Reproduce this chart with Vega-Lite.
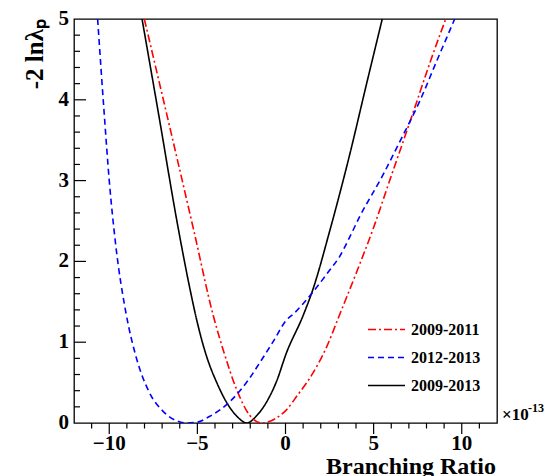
{
  "$schema": "https://vega.github.io/schema/vega-lite/v6.json",
  "width": 423,
  "height": 404,
  "autosize": "none",
  "padding": {"left": 74, "top": 19, "right": 52, "bottom": 53},
  "background": "white",
  "config": {
    "font": "Liberation Serif",
    "view": {"stroke": "black", "strokeWidth": 1.3}
  },
  "layer": [
    {
      "data": {"values": [
        {"series": "2009-2013", "x": -8.14, "y": 5},
        {"series": "2009-2013", "x": -7.19, "y": 3.81},
        {"series": "2009-2013", "x": -6.12, "y": 2.45},
        {"series": "2009-2013", "x": -5.45, "y": 1.69},
        {"series": "2009-2013", "x": -5.0, "y": 1.24},
        {"series": "2009-2013", "x": -4.5, "y": 0.84},
        {"series": "2009-2013", "x": -3.9, "y": 0.5},
        {"series": "2009-2013", "x": -3.3, "y": 0.24},
        {"series": "2009-2013", "x": -2.7, "y": 0.07},
        {"series": "2009-2013", "x": -2.2, "y": 0},
        {"series": "2009-2013", "x": -1.6, "y": 0.1},
        {"series": "2009-2013", "x": -1.1, "y": 0.25},
        {"series": "2009-2013", "x": -0.5, "y": 0.52},
        {"series": "2009-2013", "x": 0.04, "y": 0.86},
        {"series": "2009-2013", "x": 1.0, "y": 1.33},
        {"series": "2009-2013", "x": 1.55, "y": 1.65},
        {"series": "2009-2013", "x": 2.5, "y": 2.37},
        {"series": "2009-2013", "x": 3.64, "y": 3.32},
        {"series": "2009-2013", "x": 4.58, "y": 4.18},
        {"series": "2009-2013", "x": 5.49, "y": 5},
        {"series": "2009-2011", "x": -8.01, "y": 5},
        {"series": "2009-2011", "x": -6.5, "y": 3.6},
        {"series": "2009-2011", "x": -5.2, "y": 2.38},
        {"series": "2009-2011", "x": -4.1, "y": 1.33},
        {"series": "2009-2011", "x": -3.5, "y": 0.88},
        {"series": "2009-2011", "x": -2.8, "y": 0.43},
        {"series": "2009-2011", "x": -2.05, "y": 0.1},
        {"series": "2009-2011", "x": -1.35, "y": 0},
        {"series": "2009-2011", "x": -0.53, "y": 0.06},
        {"series": "2009-2011", "x": 0.04, "y": 0.16},
        {"series": "2009-2011", "x": 0.7, "y": 0.35},
        {"series": "2009-2011", "x": 1.36, "y": 0.55},
        {"series": "2009-2011", "x": 2.31, "y": 0.93},
        {"series": "2009-2011", "x": 3.07, "y": 1.34},
        {"series": "2009-2011", "x": 4.02, "y": 1.86},
        {"series": "2009-2011", "x": 5.0, "y": 2.42},
        {"series": "2009-2011", "x": 5.91, "y": 3.0},
        {"series": "2009-2011", "x": 7.33, "y": 3.9},
        {"series": "2009-2011", "x": 8.18, "y": 4.45},
        {"series": "2009-2011", "x": 9.09, "y": 5},
        {"series": "2012-2013", "x": -10.66, "y": 5},
        {"series": "2012-2013", "x": -10.28, "y": 3.81},
        {"series": "2012-2013", "x": -10.0, "y": 3.0},
        {"series": "2012-2013", "x": -9.62, "y": 2.18},
        {"series": "2012-2013", "x": -9.05, "y": 1.36},
        {"series": "2012-2013", "x": -8.48, "y": 0.82},
        {"series": "2012-2013", "x": -7.73, "y": 0.38},
        {"series": "2012-2013", "x": -6.97, "y": 0.15},
        {"series": "2012-2013", "x": -6.21, "y": 0.03},
        {"series": "2012-2013", "x": -5.6, "y": 0},
        {"series": "2012-2013", "x": -5.0, "y": 0.01},
        {"series": "2012-2013", "x": -4.32, "y": 0.08},
        {"series": "2012-2013", "x": -3.18, "y": 0.26},
        {"series": "2012-2013", "x": -2.05, "y": 0.55},
        {"series": "2012-2013", "x": -1.48, "y": 0.74},
        {"series": "2012-2013", "x": -0.72, "y": 1.0},
        {"series": "2012-2013", "x": 0.04, "y": 1.27},
        {"series": "2012-2013", "x": 0.5, "y": 1.36},
        {"series": "2012-2013", "x": 1.55, "y": 1.62},
        {"series": "2012-2013", "x": 2.5, "y": 1.89},
        {"series": "2012-2013", "x": 3.07, "y": 2.06},
        {"series": "2012-2013", "x": 3.64, "y": 2.3},
        {"series": "2012-2013", "x": 4.2, "y": 2.55},
        {"series": "2012-2013", "x": 5.53, "y": 3.07},
        {"series": "2012-2013", "x": 6.48, "y": 3.48},
        {"series": "2012-2013", "x": 7.61, "y": 3.98},
        {"series": "2012-2013", "x": 8.56, "y": 4.47},
        {"series": "2012-2013", "x": 9.6, "y": 5}
      ]},
      "mark": {"type": "line", "clip": true, "strokeWidth": 1.6, "interpolate": "monotone"},
      "encoding": {
        "x": {"field": "x", "type": "quantitative", "scale": {"domain": [-12, 12], "nice": false, "zero": false}, "axis": null},
        "y": {"field": "y", "type": "quantitative", "scale": {"domain": [0, 5], "nice": false}, "axis": null},
        "color": {
          "field": "series", "type": "nominal",
          "scale": {"domain": ["2009-2011", "2012-2013", "2009-2013"], "range": ["#ff0000", "#0000ff", "#000000"]},
          "legend": {"orient": "none", "legendX": 293, "legendY": 291, "title": null, "symbolType": "M-1,0L1,0", "symbolSize": 1369, "symbolStrokeWidth": 1.6, "labelFontSize": 16, "labelFont": "Liberation Serif", "labelFontWeight": "bold", "labelColor": "black", "labelOffset": 5, "rowPadding": -6.5, "padding": 0}
        },
        "strokeDash": {
          "field": "series", "type": "nominal",
          "scale": {"domain": ["2009-2011", "2012-2013", "2009-2013"], "range": [[8, 3, 2, 3], [6, 4], [1, 0]]},
          "legend": {"orient": "none", "legendX": 293, "legendY": 291, "title": null, "symbolType": "M-1,0L1,0", "symbolSize": 1369, "symbolStrokeWidth": 1.6, "labelFontSize": 16, "labelFont": "Liberation Serif", "labelFontWeight": "bold", "labelColor": "black", "labelOffset": 5, "rowPadding": -6.5, "padding": 0}
        }
      }
    },
    {
      "data": {"values": [{"v": -10}, {"v": -5}, {"v": 0}, {"v": 5}, {"v": 10}]},
      "mark": {"type": "tick", "orient": "vertical", "size": 11, "thickness": 1.2, "color": "black", "opacity": 1, "yOffset": 5.5},
      "encoding": {
        "x": {"field": "v", "type": "quantitative", "axis": null},
        "y": {"datum": 0, "type": "quantitative", "axis": null}
      }
    },
    {
      "data": {"values": [{"v": -11}, {"v": -9}, {"v": -8}, {"v": -7}, {"v": -6}, {"v": -4}, {"v": -3}, {"v": -2}, {"v": -1}, {"v": 1}, {"v": 2}, {"v": 3}, {"v": 4}, {"v": 6}, {"v": 7}, {"v": 8}, {"v": 9}, {"v": 11}]},
      "mark": {"type": "tick", "orient": "vertical", "size": 5.5, "thickness": 1.2, "color": "black", "opacity": 1, "yOffset": 2.75},
      "encoding": {
        "x": {"field": "v", "type": "quantitative", "axis": null},
        "y": {"datum": 0, "type": "quantitative", "axis": null}
      }
    },
    {
      "data": {"values": [{"v": 1}, {"v": 2}, {"v": 3}, {"v": 4}]},
      "mark": {"type": "tick", "orient": "horizontal", "size": 12, "thickness": 1.2, "color": "black", "opacity": 1, "xOffset": 6},
      "encoding": {
        "y": {"field": "v", "type": "quantitative", "axis": null},
        "x": {"datum": -12, "type": "quantitative", "axis": null}
      }
    },
    {
      "data": {"values": [{"v": 0.2}, {"v": 0.4}, {"v": 0.6}, {"v": 0.8}, {"v": 1.2}, {"v": 1.4}, {"v": 1.6}, {"v": 1.8}, {"v": 2.2}, {"v": 2.4}, {"v": 2.6}, {"v": 2.8}, {"v": 3.2}, {"v": 3.4}, {"v": 3.6}, {"v": 3.8}, {"v": 4.2}, {"v": 4.4}, {"v": 4.6}, {"v": 4.8}]},
      "mark": {"type": "tick", "orient": "horizontal", "size": 6, "thickness": 1.2, "color": "black", "opacity": 1, "xOffset": 3},
      "encoding": {
        "y": {"field": "v", "type": "quantitative", "axis": null},
        "x": {"datum": -12, "type": "quantitative", "axis": null}
      }
    },
    {
      "data": {"values": [{"v": -10, "t": "−10"}, {"v": -5, "t": "−5"}, {"v": 0, "t": "0"}, {"v": 5, "t": "5"}, {"v": 10, "t": "10"}]},
      "mark": {"type": "text", "align": "center", "baseline": "top", "dy": 10, "fontSize": 21, "fontWeight": "bold", "font": "Liberation Serif", "color": "black"},
      "encoding": {
        "x": {"field": "v", "type": "quantitative", "axis": null},
        "y": {"datum": 0, "type": "quantitative", "axis": null},
        "text": {"field": "t"}
      }
    },
    {
      "data": {"values": [{"v": 0, "t": "0"}, {"v": 1, "t": "1"}, {"v": 2, "t": "2"}, {"v": 3, "t": "3"}, {"v": 4, "t": "4"}, {"v": 5, "t": "5"}]},
      "mark": {"type": "text", "align": "right", "baseline": "middle", "dx": -5, "fontSize": 21, "fontWeight": "bold", "font": "Liberation Serif", "color": "black"},
      "encoding": {
        "y": {"field": "v", "type": "quantitative", "axis": null},
        "x": {"datum": -12, "type": "quantitative", "axis": null},
        "text": {"field": "t"}
      }
    },
    {
      "data": {"values": [{"t": "Branching Ratio"}]},
      "mark": {"type": "text", "align": "right", "baseline": "alphabetic", "dx": -1, "dy": 51, "fontSize": 24, "fontWeight": "bold", "font": "Liberation Serif", "color": "black"},
      "encoding": {
        "x": {"datum": 12, "type": "quantitative", "axis": null},
        "y": {"datum": 0, "type": "quantitative", "axis": null},
        "text": {"field": "t"}
      }
    },
    {
      "data": {"values": [{"t": "-2 lnλₚ"}]},
      "mark": {"type": "text", "align": "right", "baseline": "alphabetic", "angle": 270, "dx": 0, "dy": -31, "fontSize": 25, "fontWeight": "bold", "font": "Liberation Serif", "color": "black"},
      "encoding": {
        "x": {"datum": -12, "type": "quantitative", "axis": null},
        "y": {"datum": 5, "type": "quantitative", "axis": null},
        "text": {"field": "t"}
      }
    },
    {
      "data": {"values": [{"t": "×10"}]},
      "mark": {"type": "text", "align": "left", "baseline": "alphabetic", "dx": 5, "dy": -3, "fontSize": 17, "fontWeight": "bold", "font": "Liberation Serif", "color": "black"},
      "encoding": {
        "x": {"datum": 12, "type": "quantitative", "axis": null},
        "y": {"datum": 0, "type": "quantitative", "axis": null},
        "text": {"field": "t"}
      }
    },
    {
      "data": {"values": [{"t": "-13"}]},
      "mark": {"type": "text", "align": "left", "baseline": "alphabetic", "dx": 31, "dy": -11, "fontSize": 12, "fontWeight": "bold", "font": "Liberation Serif", "color": "black"},
      "encoding": {
        "x": {"datum": 12, "type": "quantitative", "axis": null},
        "y": {"datum": 0, "type": "quantitative", "axis": null},
        "text": {"field": "t"}
      }
    }
  ]
}
